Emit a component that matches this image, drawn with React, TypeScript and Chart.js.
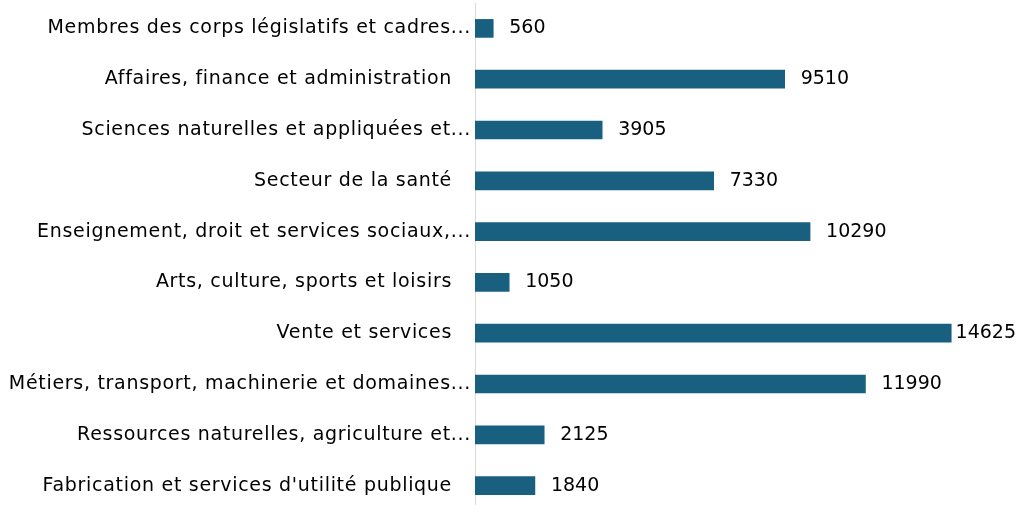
import React, { useEffect, useRef } from "react";
import { Chart, registerables } from "chart.js";

Chart.register(...registerables);

const categories: string[] = [
  "Membres des corps législatifs et cadres...",
  "Affaires, finance et administration",
  "Sciences naturelles et appliquées et...",
  "Secteur de la santé",
  "Enseignement, droit et services sociaux,...",
  "Arts, culture, sports et loisirs",
  "Vente et services",
  "Métiers, transport, machinerie et domaines...",
  "Ressources naturelles, agriculture et...",
  "Fabrication et services d'utilité publique",
];

const values: number[] = [560, 9510, 3905, 7330, 10290, 1050, 14625, 11990, 2125, 1840];

const BAR_COLOR = "#185F80";
const FONT = "DejaVu Sans";
const FONT_SIZE = 19;

const labelPlugin = {
  id: "customLabels",
  afterDatasetsDraw(chart: any) {
    const ctx = chart.ctx;
    const meta = chart.getDatasetMeta(0);
    const area = chart.chartArea;
    ctx.save();
    ctx.font = `${FONT_SIZE}px "${FONT}"`;
    ctx.fillStyle = "#000000";
    ctx.textBaseline = "middle";
    meta.data.forEach((bar: any, i: number) => {
      // value label
      (ctx as any).letterSpacing = "0px";
      const txt = String(values[i]);
      const w = ctx.measureText(txt).width;
      let x = bar.x + 16;
      if (x + w > chart.width - 5) x = chart.width - 5 - w;
      ctx.textAlign = "left";
      ctx.fillText(txt, x, bar.y);
      // category label
      (ctx as any).letterSpacing = "0.7px";
      const cat = categories[i];
      const truncated = cat.endsWith("...");
      ctx.textAlign = "right";
      ctx.fillText(cat, truncated ? area.left - 4 : area.left - 23, bar.y);
    });
    ctx.restore();
  },
};

export default function App() {
  const ref = useRef<HTMLCanvasElement | null>(null);
  useEffect(() => {
    document.body.style.margin = "0";
    const canvas = ref.current!;
    const chart = new Chart(canvas, {
      type: "bar",
      data: {
        labels: categories,
        datasets: [
          {
            data: values,
            backgroundColor: BAR_COLOR,
            barThickness: 18,
          },
        ],
      },
      options: {
        indexAxis: "y",
        animation: false,
        responsive: false,
        maintainAspectRatio: false,
        layout: { padding: { left: 0, right: 25, top: 3, bottom: 0 } },
        plugins: { legend: { display: false }, tooltip: { enabled: false } },
        scales: {
          x: {
            min: 0,
            max: 16000,
            display: false,
            grid: { display: false },
          },
          y: {
            grid: { display: false, drawTicks: false },
            border: { display: true, color: "#D9D9D9", width: 1 },
            ticks: { display: false },
            afterFit: (scale: any) => {
              scale.width = 475;
            },
          },
        },
      },
      plugins: [labelPlugin],
    });
    return () => chart.destroy();
  }, []);
  return (
    <div style={{ width: 1021, height: 505, overflow: "hidden", position: "relative" }}>
      <canvas ref={ref} width={1021} height={511} style={{ display: "block" }} />
    </div>
  );
}
